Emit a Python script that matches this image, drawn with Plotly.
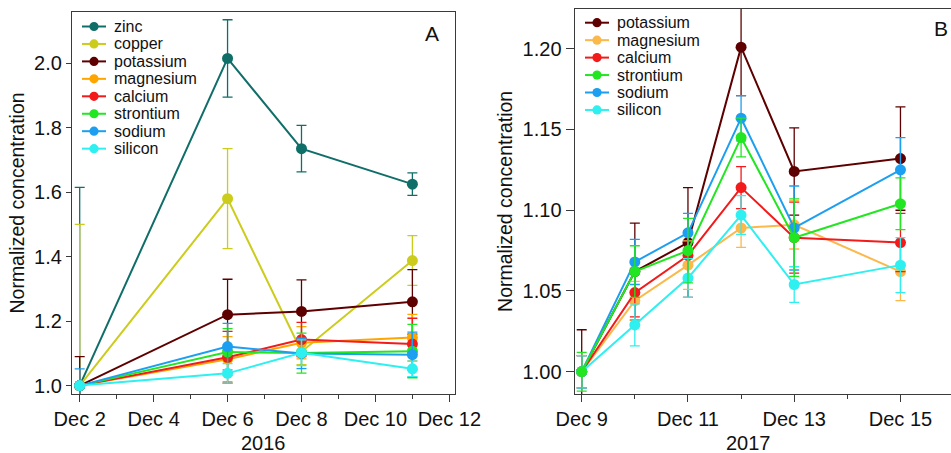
import plotly.graph_objects as go

W, H = 951, 453

# ---------------- data: panel A (2016) ----------------
dates_a = ["2016-12-02", "2016-12-06", "2016-12-08", "2016-12-11"]
names_a = ["zinc", "copper", "potassium", "magnesium", "calcium", "strontium", "sodium", "silicon"]
colors_a = ["#106e69", "#cccc1c", "#5e0000", "#ffa500", "#f21a1a", "#22e622", "#1c9ff0", "#2ef0f0"]
zinc_a = [1.0, 2.015, 1.735, 1.625]
copper_a = [1.0, 1.580, 1.105, 1.388]
potassium_a = [1.0, 1.220, 1.230, 1.260]
magnesium_a = [1.0, 1.082, 1.133, 1.149]
calcium_a = [1.0, 1.088, 1.143, 1.129]
strontium_a = [1.0, 1.104, 1.101, 1.107]
sodium_a = [1.0, 1.121, 1.100, 1.096]
silicon_a = [1.0, 1.038, 1.102, 1.052]
zinc_err_a = [0.615, 0.120, 0.072, 0.035]
copper_err_a = [0.500, 0.155, 0.040, 0.077]
potassium_err_a = [0.090, 0.110, 0.098, 0.100]
magnesium_err_a = [0.0, 0.070, 0.050, 0.072]
calcium_err_a = [0.0, 0.080, 0.053, 0.080]
strontium_err_a = [0.0, 0.073, 0.062, 0.083]
sodium_err_a = [0.052, 0.072, 0.047, 0.070]
silicon_err_a = [0.0, 0.030, 0.040, 0.024]
vals_a = [zinc_a, copper_a, potassium_a, magnesium_a, calcium_a, strontium_a, sodium_a, silicon_a]
errs_a = [zinc_err_a, copper_err_a, potassium_err_a, magnesium_err_a, calcium_err_a,
          strontium_err_a, sodium_err_a, silicon_err_a]

# ---------------- data: panel B (2017) ----------------
dates_b = ["2017-12-09", "2017-12-10", "2017-12-11", "2017-12-12", "2017-12-13", "2017-12-15"]
names_b = ["potassium", "magnesium", "calcium", "strontium", "sodium", "silicon"]
colors_b = ["#5e0000", "#fbb84b", "#f21a1a", "#22e622", "#1c9ff0", "#2ef0f0"]
potassium_b = [1.0, 1.062, 1.080, 1.201, 1.124, 1.132]
magnesium_b = [1.0, 1.044, 1.066, 1.089, 1.091, 1.062]
calcium_b = [1.0, 1.049, 1.072, 1.114, 1.083, 1.080]
strontium_b = [1.0, 1.062, 1.075, 1.145, 1.083, 1.104]
sodium_b = [1.0, 1.068, 1.086, 1.157, 1.089, 1.125]
silicon_b = [1.0, 1.029, 1.058, 1.097, 1.054, 1.066]
potassium_err_b = [0.026, 0.030, 0.034, 0.030, 0.027, 0.032]
magnesium_err_b = [0.010, 0.012, 0.015, 0.012, 0.015, 0.018]
calcium_err_b = [0.010, 0.015, 0.015, 0.013, 0.022, 0.018]
strontium_err_b = [0.012, 0.016, 0.020, 0.012, 0.024, 0.016]
sodium_err_b = [0.010, 0.014, 0.012, 0.014, 0.026, 0.020]
silicon_err_b = [0.010, 0.013, 0.012, 0.012, 0.011, 0.017]
vals_b = [potassium_b, magnesium_b, calcium_b, strontium_b, sodium_b, silicon_b]
errs_b = [potassium_err_b, magnesium_err_b, calcium_err_b, strontium_err_b, sodium_err_b, silicon_err_b]
draw_order_b = [0, 1, 2, 4, 5, 3]  # strontium drawn on top

FONT = "Liberation Sans, Arial, Helvetica, sans-serif"
AXC = "#3a3a3a"


def px(x):
    return x / W


def py(y):
    return 1 - y / H


fig = go.Figure()

for n, c, v, e in zip(names_a, colors_a, vals_a, errs_a):
    fig.add_trace(go.Scatter(
        x=dates_a, y=v, name=n, mode="lines+markers", xaxis="x", yaxis="y",
        line=dict(color=c, width=2), marker=dict(color=c, size=11),
        error_y=dict(type="data", array=e, color=c, thickness=1.3, width=5),
        showlegend=False))

for i in draw_order_b:
    c = colors_b[i]
    fig.add_trace(go.Scatter(
        x=dates_b, y=vals_b[i], name=names_b[i], mode="lines+markers", xaxis="x2", yaxis="y2",
        line=dict(color=c, width=2), marker=dict(color=c, size=11),
        error_y=dict(type="data", array=errs_b[i], color=c, thickness=1.3, width=5),
        showlegend=False))

DAY = 86400000
common_x = dict(type="date", tickformat="%b %-d", dtick=2 * DAY, ticks="outside", ticklen=7,
                tickwidth=1.3, tickcolor=AXC, showline=True, linecolor=AXC, linewidth=1.3,
                mirror=True, showgrid=False, zeroline=False, automargin=False,
                tickfont=dict(family=FONT, size=20, color="#111"),
                minor=dict(dtick=DAY, ticks="outside", ticklen=4, tickwidth=1.3, tickcolor=AXC,
                           showgrid=False))
common_y = dict(ticks="outside", tickwidth=1.3, tickcolor=AXC, showline=True, linecolor=AXC,
                linewidth=1.3, showgrid=False, zeroline=False, automargin=False,
                tickfont=dict(family=FONT, size=20, color="#111"),
                title=dict(text="Normalized concentration", standoff=4,
                           font=dict(family=FONT, size=19.5, color="#111")))


def label(text, x, y, size, xanchor="center"):
    return dict(text=text, x=px(x), y=py(y), xref="paper", yref="paper", showarrow=False,
                xanchor=xanchor, yanchor="middle", font=dict(family=FONT, size=size, color="#111"))


annotations = [
    label("A", 432, 33, 21),
    label("B", 941, 29, 21),
    label("2016", 263, 443, 20),
    label("2017", 748, 443, 20),
]
shapes = []


def legend_entries(names, colors, x_line0, x_line1, x_text, y0, dy):
    for i, (n, c) in enumerate(zip(names, colors)):
        yy = y0 + dy * i
        xm = (x_line0 + x_line1) / 2
        shapes.append(dict(type="line", xref="paper", yref="paper", x0=px(x_line0), x1=px(x_line1),
                           y0=py(yy), y1=py(yy), line=dict(color=c, width=2)))
        r = 4.6
        shapes.append(dict(type="circle", xref="paper", yref="paper", x0=px(xm - r), x1=px(xm + r),
                           y0=py(yy + r), y1=py(yy - r), fillcolor=c, line=dict(color=c, width=0)))
        annotations.append(label(n, x_text, yy, 16, xanchor="left"))


legend_entries(names_a, colors_a, 82, 106, 112, 26.5, 17.45)
legend_entries(names_b, colors_b, 585, 609, 615, 22.7, 17.45)

fig.update_layout(
    width=W, height=H, margin=dict(l=0, r=0, t=0, b=0),
    paper_bgcolor="white", plot_bgcolor="white",
    xaxis=dict(common_x, domain=[px(72), px(455)], anchor="y",
               range=["2016-12-01 19:00", "2016-12-12 03:40"], tick0="2016-12-02"),
    yaxis=dict(common_y, domain=[py(394), py(12)], anchor="x", range=[0.974, 2.159],
               dtick=0.2, tick0=1.0, tickformat=".1f", ticklen=5, mirror=True),
    xaxis2=dict(common_x, domain=[px(574.7), 1.0], anchor="y2",
                range=["2017-12-08 20:50", "2017-12-15 22:50"], tick0="2017-12-09"),
    yaxis2=dict(common_y, domain=[py(394), py(8.7)], anchor="x2", range=[0.9862, 1.2248],
                dtick=0.05, tick0=1.0, tickformat=".2f", ticklen=8, mirror=False),
    annotations=annotations, shapes=shapes,
)

# remove the browser's default page margin so the figure sits at the window's top-left corner
fig.write_html("out.html", config={"displayModeBar": False},
               post_script="document.body.style.margin='0px';")
